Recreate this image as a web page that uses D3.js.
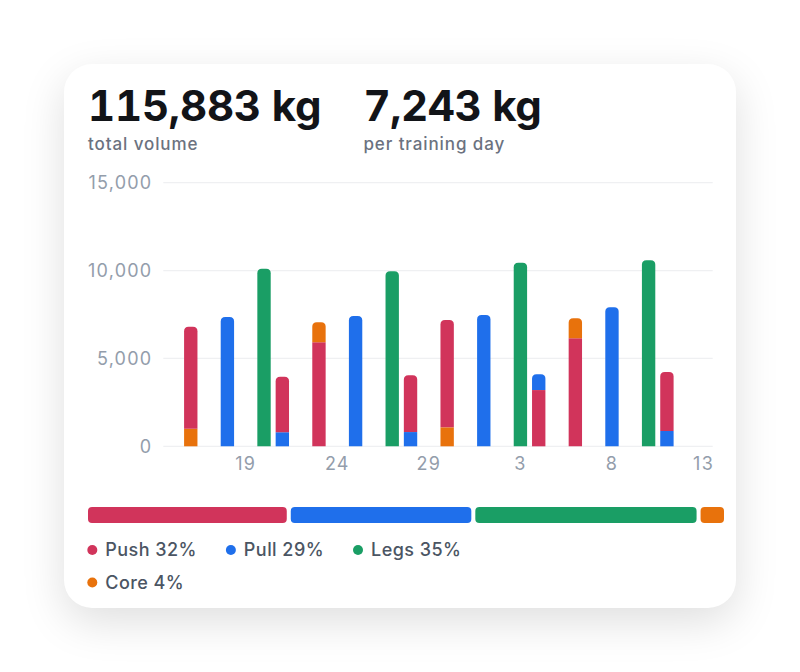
<!DOCTYPE html>
<html>
<head>
<meta charset="utf-8">
<script src="https://cdn.jsdelivr.net/npm/d3@7/dist/d3.min.js"></script>
<style>
  html, body { margin: 0; padding: 0; background: #ffffff; width: 800px; height: 672px; overflow: hidden; }
  .card { position: absolute; left: 64px; top: 64px; width: 672px; height: 544px; background: #fff;
          border-radius: 28px; box-shadow: 0 14px 44px rgba(0,0,0,0.13); }
  svg { position: absolute; left: 0; top: 0; font-family: Inter, "Noto Sans", sans-serif; }
  .tnum { font-variant-numeric: tabular-nums; font-feature-settings: "tnum" 1; }
</style>
</head>
<body>
<div class="card"></div>
<svg id="chart" width="800" height="672"></svg>
<script>
// ---- data ----
const sessionDates = ["2024-12-16","2024-12-18","2024-12-20","2024-12-21","2024-12-23","2024-12-25","2024-12-27","2024-12-28",
                      "2024-12-30","2025-01-01","2025-01-03","2025-01-04","2025-01-06","2025-01-08","2025-01-10","2025-01-11"];
const categories = ["Push","Pull","Legs","Core"];
const pushKg = [5800, 0, 0, 3160, 5920, 0, 0, 3230, 6100, 0, 0, 3200, 6150, 0, 0, 3353];
const pullKg = [0, 7360, 0, 800, 0, 7410, 0, 810, 0, 7470, 0, 900, 0, 7910, 0, 870];
const legsKg = [0, 0, 10100, 0, 0, 0, 9960, 0, 0, 0, 10450, 0, 0, 0, 10580, 0];
const coreKg = [1000, 0, 0, 0, 1140, 0, 0, 0, 1080, 0, 0, 0, 1130, 0, 0, 0];
// bottom-to-top order of segments within each day's bar
const stackOrder = [["Core","Push"],["Pull"],["Legs"],["Pull","Push"],["Push","Core"],["Pull"],["Legs"],["Pull","Push"],
                    ["Core","Push"],["Pull"],["Legs"],["Push","Pull"],["Push","Core"],["Pull"],["Legs"],["Pull","Push"]];
const rangeStart = "2024-12-15", rangeEnd = "2025-01-13";
const tickDates = ["2024-12-19","2024-12-24","2024-12-29","2025-01-03","2025-01-08","2025-01-13"];
const yTicks = [0, 5000, 10000, 15000];
const colors = { Push: "#d1345b", Pull: "#1f6feb", Legs: "#1a9e65", Core: "#e8720c" };

const seriesKg = { Push: pushKg, Pull: pullKg, Legs: legsKg, Core: coreKg };
const parse = d3.timeParse("%Y-%m-%d");
const fmtKey = d3.timeFormat("%Y-%m-%d");

const svg = d3.select("#chart");

// ---- header ----
const total = d3.sum(categories, c => d3.sum(seriesKg[c]));
const perDay = Math.round(total / sessionDates.length);
const fmt = d3.format(",");
const head = svg.append("g");
const t1 = head.append("text").attr("class", "tnum").attr("x", 88).attr("y", 121).attr("font-size", 42).attr("font-weight", 700)
  .attr("fill", "#121418").attr("letter-spacing", -0.2).text(fmt(total) + " kg");
head.append("text").attr("x", 88).attr("y", 150).attr("font-size", 17).attr("font-weight", 500).attr("fill", "#6b7280")
  .attr("letter-spacing", 0.9).text("total volume");
const w1 = t1.node().getComputedTextLength();
const x2 = 88 + w1 + 42;
head.append("text").attr("class", "tnum").attr("x", x2).attr("y", 121).attr("font-size", 42).attr("font-weight", 700)
  .attr("fill", "#121418").attr("letter-spacing", -0.4).text(fmt(perDay) + " kg");
head.append("text").attr("x", x2).attr("y", 150).attr("font-size", 17).attr("font-weight", 500).attr("fill", "#6b7280")
  .attr("letter-spacing", 0.9).text("per training day");

// ---- chart ----
const plotLeft = 163.3, plotRight = 712.7, plotTop = 182.7, plotBottom = 446.3;
const allDays = d3.timeDay.range(parse(rangeStart), d3.timeDay.offset(parse(rangeEnd), 1)).map(fmtKey);
const x = d3.scaleBand().domain(allDays).range([plotLeft, plotRight]).paddingInner(0.27).paddingOuter(0.135);
const y = d3.scaleLinear().domain([0, 15000]).range([plotBottom, plotTop]);

// gridlines
svg.append("g").selectAll("line").data(yTicks).join("line")
  .attr("x1", plotLeft).attr("x2", plotRight)
  .attr("y1", d => y(d)).attr("y2", d => y(d))
  .attr("stroke", "#eff0f2").attr("stroke-width", 1.3);

// y axis labels
const yAxis = d3.axisLeft(y).tickValues(yTicks).tickFormat(d3.format(",")).tickSize(0).tickPadding(11);
const gy = svg.append("g").attr("transform", `translate(${plotLeft},0)`).call(yAxis);
gy.select(".domain").remove();
gy.selectAll("text").attr("font-size", 18).attr("fill", "#939dab").attr("letter-spacing", 1.2)
  .attr("font-family", "Inter, sans-serif");

// x axis labels
const xAxis = d3.axisBottom(x).tickValues(tickDates).tickFormat(d => String(+d.slice(8))).tickSize(0).tickPadding(11);
const gx = svg.append("g").attr("transform", `translate(0,${plotBottom})`).call(xAxis);
gx.select(".domain").remove();
gx.selectAll("text").attr("font-size", 18).attr("fill", "#939dab").attr("letter-spacing", 1.2)
  .attr("font-family", "Inter, sans-serif");

// stacked bars
const segs = [];
sessionDates.forEach((d, i) => {
  let base = 0;
  const order = stackOrder[i];
  order.forEach((c, k) => {
    const v = seriesKg[c][i];
    segs.push({ date: d, cat: c, y0: base, y1: base + v, top: k === order.length - 1 });
    base += v;
  });
});
const bw = x.bandwidth();
const r = 4.5;
function segPath(s) {
  const x0 = x(s.date), x1 = x0 + bw, yb = y(s.y0), yt = y(s.y1);
  if (!s.top) return `M${x0},${yb}V${yt}H${x1}V${yb}Z`;
  return `M${x0},${yb}V${yt + r}Q${x0},${yt} ${x0 + r},${yt}H${x1 - r}Q${x1},${yt} ${x1},${yt + r}V${yb}Z`;
}
svg.append("g").selectAll("path").data(segs).join("path")
  .attr("d", segPath).attr("fill", s => colors[s.cat]);

// ---- share bar ----
const shares = categories.map(c => ({ cat: c, v: d3.sum(seriesKg[c]) }));
const barLeft = 88, barInner = 624, gap = 4, barY = 507, barH = 16;
const sx = d3.scaleLinear().domain([0, total]).range([0, barInner]);
let acc = 0;
shares.forEach((s, i) => { s.x = barLeft + sx(acc) + i * gap; s.w = sx(s.v); acc += s.v; });
svg.append("g").selectAll("rect").data(shares).join("rect")
  .attr("x", s => s.x).attr("y", barY).attr("width", s => s.w).attr("height", barH)
  .attr("rx", 4).attr("fill", s => colors[s.cat]);

// ---- legend ----
const leg = svg.append("g");
const rowY = [550, 582.5];
let lx = 87.3, row = 0;
shares.forEach((s, i) => {
  if (i === 3) { row = 1; lx = 87.3; }
  const g = leg.append("g");
  g.append("circle").attr("cx", lx + 5).attr("cy", rowY[row]).attr("r", 5).attr("fill", colors[s.cat]);
  const t = g.append("text").attr("x", lx + 18).attr("y", rowY[row]).attr("dy", "0.36em")
    .attr("font-size", 18).attr("font-weight", 500).attr("letter-spacing", 0.45).attr("fill", "#4b5563")
    .text(`${s.cat} ${Math.round(100 * s.v / total)}%`);
  lx += 18 + t.node().getComputedTextLength() + 29;
});
</script>
</body>
</html>
